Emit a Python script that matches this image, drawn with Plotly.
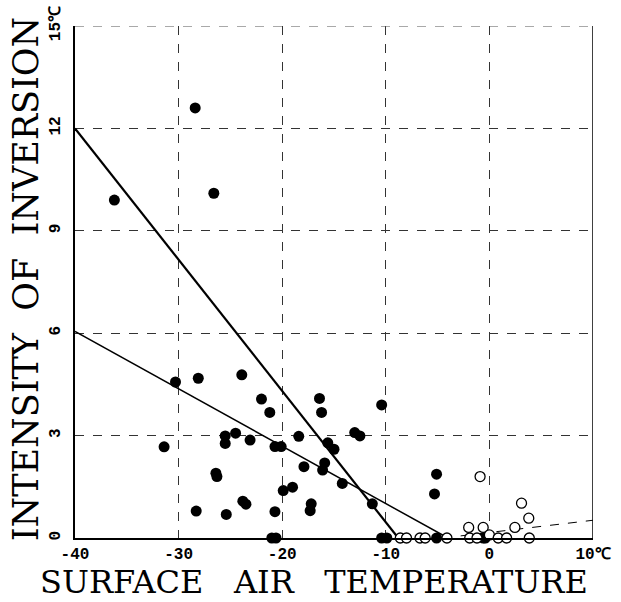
import plotly.graph_objects as go

# Filled circles (x: surface air temperature, y: intensity of inversion)
filled_x = [-36.2, -28.4, -26.6, -30.3, -31.4, -28.1, -23.9, -22.0, -25.5, -24.5, -25.5, -23.1,
            -26.4, -26.3, -28.3, -25.4, -23.8, -23.5, -21.2, -16.4, -16.2, -18.4, -20.7, -20.1,
            -15.6, -15.0, -13.0, -12.5, -17.9, -15.9, -16.1, -14.2, -19.9, -19.0, -17.2, -17.3,
            -20.7, -11.3, -10.4, -21.0, -20.6, -10.4, -9.9, -5.1, -5.1, -5.3, -0.6, -0.4]
filled_y = [9.9, 12.6, 10.1, 4.57, 2.67, 4.68, 4.78, 4.07, 2.99, 3.07, 2.77, 2.87,
            1.9, 1.8, 0.79, 0.69, 1.08, 0.99, 3.68, 4.09, 3.68, 2.98, 2.68, 2.68,
            2.79, 2.6, 3.09, 2.99, 2.09, 2.2, 1.99, 1.6, 1.39, 1.49, 1.0, 0.8,
            0.77, 1.0, 3.9, 0.0, 0.0, 0.0, 0.0, 0.0, 1.87, 1.29, 0.0, 0.0]

# Open circles
open_x = [-8.6, -8.0, -6.7, -6.2, -4.1, -2.0, -0.6, -1.9, -1.2, 0.0, 0.85, 1.66, 2.46, 3.1, 3.8, 3.85, -0.9]
open_y = [0.0, 0.0, 0.0, 0.0, 0.0, 0.31, 0.31, 0.0, 0.0, 0.09, 0.0, 0.0, 0.31, 1.02, 0.58, 0.0, 1.8]

# Regression lines (end points)
steep_x = [-40, -8.8]
steep_y = [12.0, 0.0]
shallow_x = [-40, -4.0]
shallow_y = [6.05, 0.0]
dashed_x = [-4.5, 10]
dashed_y = [0.0, 0.52]

x_ticks = [-40, -30, -20, -10, 0, 10]
x_ticktext = ["-40", "-30", "-20", "-10", "0", "10℃"]
y_ticks = [0, 3, 6, 9, 12, 15]
y_ticktext = ["0", "3", "6", "9", "12", "15℃"]

NB = "\u00a0"
x_title = f"SURFACE{NB*3}AIR{NB*3}TEMPERATURE"
y_title = f"INTENSITY{NB*2}OF{NB*2}INVERSION"

fig = go.Figure()
fig.add_trace(go.Scatter(x=steep_x, y=steep_y, mode="lines",
                         line=dict(color="black", width=2.2), showlegend=False))
fig.add_trace(go.Scatter(x=shallow_x, y=shallow_y, mode="lines",
                         line=dict(color="black", width=1.5), showlegend=False))
fig.add_trace(go.Scatter(x=dashed_x, y=dashed_y, mode="lines",
                         line=dict(color="black", width=1, dash="dash"), showlegend=False))
fig.add_trace(go.Scatter(x=filled_x, y=filled_y, mode="markers",
                         marker=dict(color="black", size=11, line=dict(color="black", width=0)),
                         showlegend=False, cliponaxis=False))
fig.add_trace(go.Scatter(x=open_x, y=open_y, mode="markers",
                         marker=dict(color="white", size=10, line=dict(color="black", width=1.3)),
                         showlegend=False, cliponaxis=False))

tickfont = dict(family="Liberation Mono", size=16, color="black", weight="bold")
fig.update_xaxes(range=[-40, 10], tickvals=x_ticks, ticktext=x_ticktext, tickfont=tickfont,
                 showgrid=True, gridcolor="#333", griddash="dash", gridwidth=1,
                 zeroline=False, showline=True, linecolor="black", linewidth=1.5,
                 mirror=False, ticks="", ticklabelstandoff=0, automargin=False)
fig.update_yaxes(range=[0, 15], tickvals=y_ticks, ticktext=y_ticktext, tickfont=tickfont,
                 tickangle=-90, showgrid=True, gridcolor="#333", griddash="dash", gridwidth=1,
                 zeroline=False, showline=True, linecolor="black", linewidth=1.5,
                 ticks="", ticklabelstandoff=7, automargin=False)

# right border and dashed top border
fig.add_shape(type="line", xref="x", yref="y", x0=10, x1=10, y0=0, y1=15,
              line=dict(color="black", width=1.5))
fig.add_shape(type="line", xref="x", yref="y", x0=-40, x1=10, y0=15, y1=15,
              line=dict(color="#555", width=1, dash="dash"))

fig.add_annotation(text=x_title, xref="paper", yref="paper",
                   x=0.461, y=-0.125, xanchor="center", yanchor="bottom",
                   showarrow=False, borderpad=0,
                   font=dict(family="DejaVu Serif", size=32, color="black"))
fig.add_annotation(text=y_title, xref="paper", yref="paper",
                   x=-0.093, y=0.505, xanchor="center", yanchor="middle",
                   textangle=-90, showarrow=False,
                   font=dict(family="DejaVu Serif", size=35, color="black"))

fig.update_layout(width=621, height=602, margin=dict(l=75, r=28, t=26, b=64),
                  plot_bgcolor="white", paper_bgcolor="white")
fig.write_html("out.html", config={"displayModeBar": False},
               post_script="document.body.style.margin='0px';")
